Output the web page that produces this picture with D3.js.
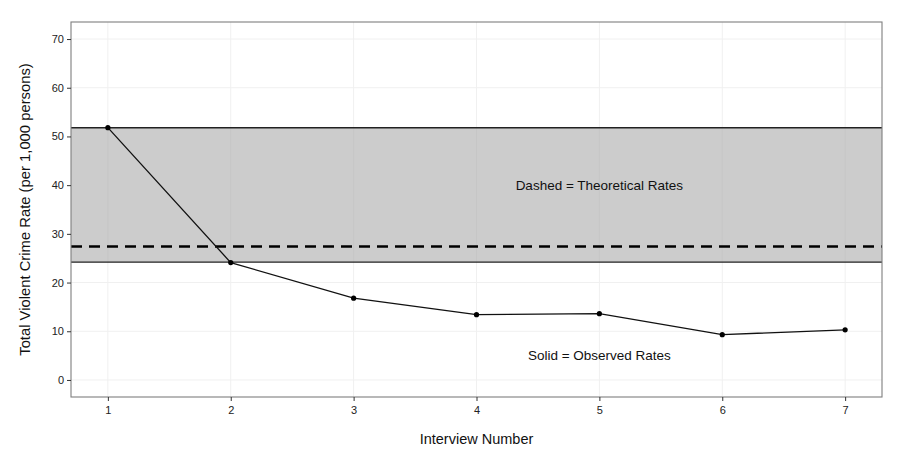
<!DOCTYPE html>
<html><head><meta charset="utf-8">
<script src="https://cdn.jsdelivr.net/npm/d3@7"></script>
<style>body{margin:0;background:#fff}svg{display:block;font-family:"Liberation Sans",Arial,sans-serif}</style>
</head><body><svg id="c" width="900" height="453"></svg>
<script>
const interviews = [1,2,3,4,5,6,7];
const observed = [51.8, 24.1, 16.8, 13.4, 13.6, 9.3, 10.3];
const bandLow = 24.2, bandHigh = 51.8;
const theoretical = 27.4;
const yTicks = [0,10,20,30,40,50,60,70];
const xTicks = [1,2,3,4,5,6,7];
const labels = [{x:5, y:40, text:"Dashed = Theoretical Rates"},{x:5, y:5, text:"Solid = Observed Rates"}];

const svg = d3.select("#c");
const L=71, R=882, T=22, B=397;
const x = d3.scaleLinear().domain([0.7,7.3]).range([L,R]);
const y = d3.scaleLinear().domain([-3.5,73.5]).range([B,T]);

const g = svg.append("g");
g.selectAll(".gx").data(xTicks).join("line").attr("x1",d=>x(d)).attr("x2",d=>x(d)).attr("y1",T).attr("y2",B).attr("stroke","#f0f0f0").attr("stroke-width",1);
g.selectAll(".gy").data(yTicks).join("line").attr("y1",d=>y(d)).attr("y2",d=>y(d)).attr("x1",L).attr("x2",R).attr("stroke","#f0f0f0").attr("stroke-width",1);
g.append("rect").attr("x",L).attr("width",R-L).attr("y",y(bandHigh)).attr("height",y(bandLow)-y(bandHigh)).attr("fill","#cccccc");
g.selectAll(".gx2").data(xTicks).join("line").attr("x1",d=>x(d)).attr("x2",d=>x(d)).attr("y1",y(bandHigh)).attr("y2",y(bandLow)).attr("stroke","#c6c6c6").attr("stroke-width",1);
g.selectAll(".bl").data([bandLow,bandHigh]).join("line").attr("x1",L).attr("x2",R).attr("y1",d=>y(d)).attr("y2",d=>y(d)).attr("stroke","#222").attr("stroke-width",1.4);
g.append("line").attr("x1",L).attr("x2",R).attr("y1",y(theoretical)).attr("y2",y(theoretical)).attr("stroke","#000").attr("stroke-width",2.6).attr("stroke-dasharray","11,7");
const data = interviews.map((d,i)=>({x:d,y:observed[i]}));
g.append("path").datum(data).attr("d",d3.line().x(d=>x(d.x)).y(d=>y(d.y))).attr("fill","none").attr("stroke","#111").attr("stroke-width",1.3);
g.selectAll(".pt").data(data).join("circle").attr("cx",d=>x(d.x)).attr("cy",d=>y(d.y)).attr("r",2.6).attr("fill","#000");
g.selectAll(".lab").data(labels).join("text").attr("x",d=>x(d.x)).attr("y",d=>y(d.y)).attr("dy","0.35em").attr("text-anchor","middle").attr("font-size",13.5).attr("fill","#111").text(d=>d.text);
g.append("rect").attr("x",L).attr("y",T).attr("width",R-L).attr("height",B-T).attr("fill","none").attr("stroke","#7f7f7f").attr("stroke-width",1.1);
const ax = svg.append("g").attr("transform",`translate(0,${B})`).call(d3.axisBottom(x).tickValues(xTicks).tickFormat(d3.format("d")).tickSize(4).tickSizeOuter(0));
const ay = svg.append("g").attr("transform",`translate(${L},0)`).call(d3.axisLeft(y).tickValues(yTicks).tickSize(4).tickSizeOuter(0));
[ax,ay].forEach(a=>{a.select(".domain").remove();a.selectAll(".tick line").attr("stroke","#333");a.selectAll("text").attr("font-size",11).attr("fill","#222").attr("font-family","Liberation Sans, Arial, sans-serif");});
ax.selectAll("text").attr("dy","0.9em");
svg.append("text").attr("x",(L+R)/2).attr("y",444).attr("text-anchor","middle").attr("font-size",14.5).attr("fill","#111").text("Interview Number");
svg.append("text").attr("transform",`translate(30,${(T+B)/2}) rotate(-90)`).attr("text-anchor","middle").attr("font-size",14.8).attr("fill","#111").text("Total Violent Crime Rate (per 1,000 persons)");
</script></body></html>
